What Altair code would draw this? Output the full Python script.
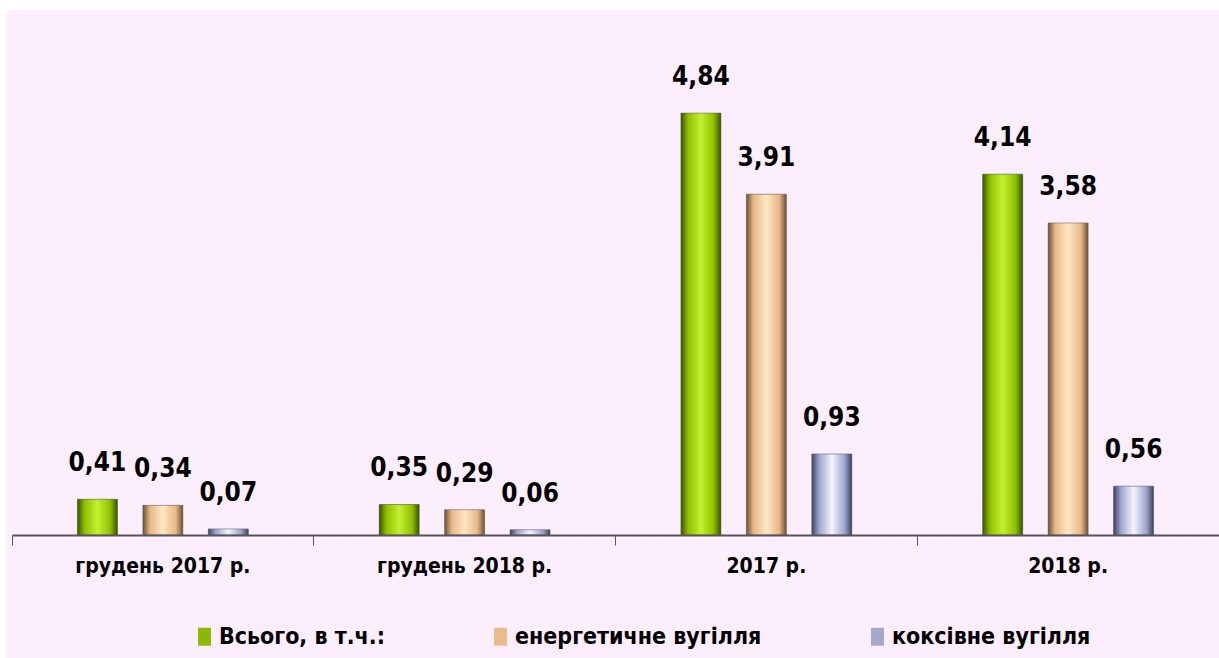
import altair as alt
import pandas as pd

categories = ["грудень 2017 р.", "грудень 2018 р.", "2017 р.", "2018 р."]
series = ["Всього, в т.ч.:", "енергетичне вугілля", "коксівне вугілля"]
total = [0.41, 0.35, 4.84, 4.14]
energy = [0.34, 0.29, 3.91, 3.58]
coking = [0.07, 0.06, 0.93, 0.56]

rows = []
for s, vals in zip(series, [total, energy, coking]):
    for c, v in zip(categories, vals):
        rows.append({"cat": c, "series": s, "value": v})
df = pd.DataFrame(rows)

solid = ["#8DB800", "#E8BC8C", "#A4A8CC"]
grads = [
    ("#3A5200", "#8FC000", "#C4F030"),
    ("#6A5236", "#E8B888", "#FFE6C4"),
    ("#3E4060", "#9EA4CC", "#F2F4FF"),
]

FONT = "DejaVu Sans Condensed, Liberation Sans Narrow, sans-serif"
SYM = "M-0.72,-1L0.72,-1L0.72,1L-0.72,1Z"


def grad(dark, mid, light):
    return {
        "gradient": "linear", "x1": 0, "y1": 0, "x2": 1, "y2": 0,
        "stops": [
            {"offset": 0, "color": dark},
            {"offset": 0.18, "color": mid},
            {"offset": 0.5, "color": light},
            {"offset": 0.82, "color": mid},
            {"offset": 1, "color": dark},
        ],
    }


xenc = alt.X("cat:N", sort=categories,
             scale=alt.Scale(paddingInner=0, paddingOuter=0),
             axis=alt.Axis(title=None, labelAngle=0, labelFont=FONT, labelFontSize=21,
                           labelFontWeight="bold", labelColor="black", domainColor="#555555",
                           domainWidth=2, tickColor="#555555", tickWidth=1, tickSize=10,
                           bandPosition=0, labelPadding=10, labelLimit=0, grid=False,
                           zindex=1))
xoff = alt.XOffset("series:N", sort=series,
                   scale=alt.Scale(domain=series, paddingInner=0.389, paddingOuter=1))
yenc = alt.Y("value:Q", scale=alt.Scale(domain=[0, 6]), axis=None)

bg = alt.Chart(pd.DataFrame({"a": [0]})).mark_rect(color="#FCEEFC").encode(
    x=alt.value(-6), x2=alt.value(1207), y=alt.value(-2), y2=alt.value(646))

base = alt.Chart(df).mark_bar().encode(
    x=xenc, xOffset=xoff, y=yenc,
    color=alt.Color("series:N", sort=series,
                    scale=alt.Scale(domain=series, range=solid),
                    legend=alt.Legend(title=None, orient="none", direction="horizontal",
                                      legendX=181, legendY=613, labelFont=FONT,
                                      labelFontSize=23, labelFontWeight="bold",
                                      labelColor="black", columnPadding=104, labelLimit=0,
                                      symbolType=SYM, symbolSize=324, symbolStrokeWidth=0,
                                      labelOffset=3, symbolOffset=0)),
)

overlays = []
for s, g in zip(series, grads):
    overlays.append(
        alt.Chart(df).transform_filter(alt.datum.series == s).mark_bar(
            fill=grad(*g), stroke="#555555", strokeWidth=0.5
        ).encode(x=xenc, xOffset=xoff, y=yenc)
    )

labels = alt.Chart(df).transform_calculate(
    lab="replace(format(datum.value, '.2f'), '.', ',')"
).mark_text(font=FONT, fontSize=26, fontWeight="bold", color="black",
            baseline="alphabetic", dy=-28).encode(
    x=xenc, xOffset=xoff, y=yenc, text="lab:N")

chart = alt.layer(bg, base, *overlays, labels).properties(
    width=1207, height=523,
    autosize=alt.AutoSizeParams(type="none"),
    padding={"left": 12, "top": 12, "right": 0, "bottom": 123},
    background="white",
).configure_view(stroke=None)

chart.save("out.html", embed_options={"renderer": "svg", "actions": False})
